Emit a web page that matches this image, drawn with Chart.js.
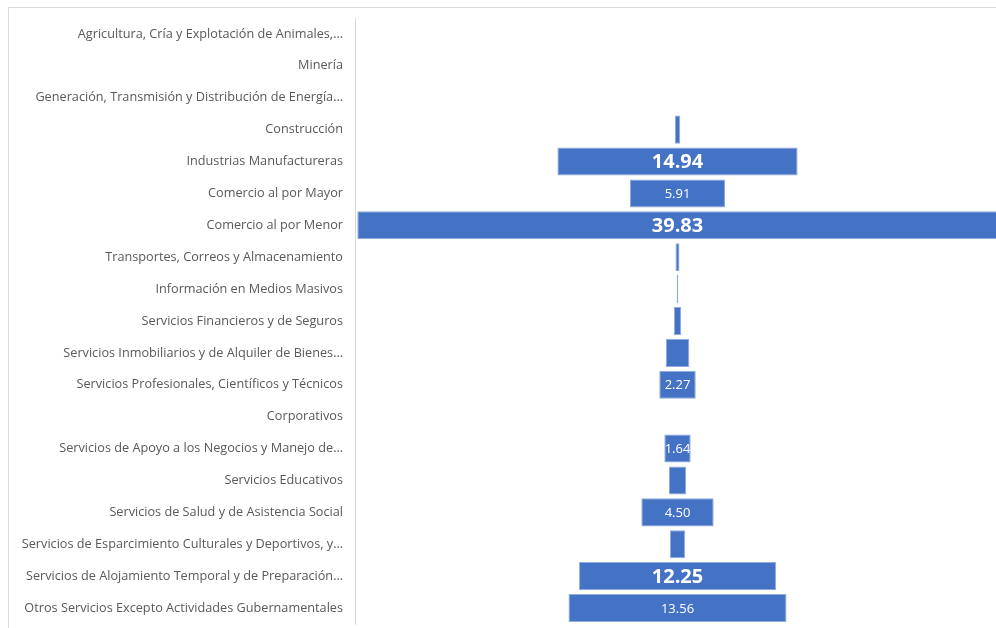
<!DOCTYPE html>
<html>
<head>
<meta charset="utf-8">
<script src="https://cdn.jsdelivr.net/npm/chart.js@4.4.1/dist/chart.umd.min.js"></script>
<style>
  html, body { margin: 0; padding: 0; background: #ffffff; overflow: hidden; }
  #wrap { position: relative; width: 996px; height: 628px; }
  #frame { position: absolute; left: 8px; top: 7px; width: 1000px; height: 640px; border-left: 1px solid #d9d9d9; border-top: 1px solid #d9d9d9; box-sizing: border-box; }
  canvas { position: absolute; left: 0; top: 0; }
</style>
</head>
<body>
<div id="wrap">
  <div id="frame"></div>
  <canvas id="c" width="996" height="628"></canvas>
</div>
<script>
const categories = [
  "Agricultura, Cría y Explotación de Animales,…",
  "Minería",
  "Generación, Transmisión y Distribución de Energía…",
  "Construcción",
  "Industrias Manufactureras",
  "Comercio al por Mayor",
  "Comercio al por Menor",
  "Transportes, Correos y Almacenamiento",
  "Información en Medios Masivos",
  "Servicios Financieros y de Seguros",
  "Servicios Inmobiliarios y de Alquiler de Bienes…",
  "Servicios Profesionales, Científicos y Técnicos",
  "Corporativos",
  "Servicios de Apoyo a los Negocios y Manejo de…",
  "Servicios Educativos",
  "Servicios de Salud y de Asistencia Social",
  "Servicios de Esparcimiento Culturales y Deportivos, y…",
  "Servicios de Alojamiento Temporal y de Preparación…",
  "Otros Servicios Excepto Actividades Gubernamentales"
];
const values = [0, 0, 0, 0.34, 14.94, 5.91, 39.83, 0.25, 0.10, 0.46, 1.47, 2.27, 0, 1.64, 1.06, 4.50, 0.95, 12.25, 13.56];
// which bars show a value label: 0 = none, 1 = small, 2 = large bold
const labelKind = [0, 0, 0, 0, 2, 1, 2, 0, 0, 0, 0, 1, 0, 1, 0, 1, 0, 2, 1];

const valueLabels = {
  id: 'valueLabels',
  afterDatasetsDraw(chart) {
    const ctx = chart.ctx;
    const meta = chart.getDatasetMeta(0);
    const xs = chart.scales.x;
    const cx = xs.getPixelForValue(0);
    ctx.save();
    ctx.fillStyle = '#ffffff';
    ctx.textAlign = 'center';
    ctx.textBaseline = 'middle';
    meta.data.forEach((el, i) => {
      const k = labelKind[i];
      if (!k) return;
      ctx.font = k === 2 ? 'bold 20px "Open Sans"' : '13px "Open Sans"';
      ctx.fillText(values[i].toFixed(2), cx, el.y + 1);
    });
    ctx.restore();
  }
};

new Chart(document.getElementById('c'), {
  type: 'bar',
  data: {
    labels: categories,
    datasets: [{
      data: values.map(v => [-v / 2, v / 2]),
      backgroundColor: '#4472c4',
      borderColor: '#8faadc',
      borderWidth: 1,
      borderSkipped: false,
      barPercentage: 0.88,
      categoryPercentage: 1
    }]
  },
  options: {
    indexAxis: 'y',
    responsive: false,
    animation: false,
    layout: { padding: { top: 18, bottom: 4, left: 0, right: 0 } },
    plugins: { legend: { display: false }, tooltip: { enabled: false } },
    scales: {
      x: { display: false, min: -20.06, max: 19.81 },
      y: {
        grid: { display: false },
        border: { display: true, color: '#d9d9d9', width: 1 },
        ticks: { color: '#595959', font: { family: 'Open Sans', size: 12.7 }, padding: 4, autoSkip: false },
        afterFit(s) { s.width = 355; s.paddingTop = 0; s.paddingBottom = 0; }
      }
    }
  },
  plugins: [valueLabels]
});
</script>
</body>
</html>
